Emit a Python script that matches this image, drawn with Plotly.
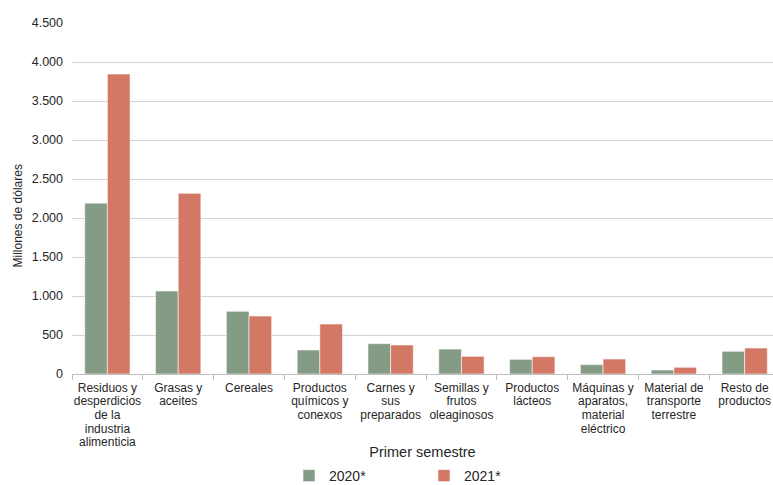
import plotly.graph_objects as go

categories = [
    "Residuos y|desperdicios|de la|industria|alimenticia",
    "Grasas y|aceites",
    "Cereales",
    "Productos|químicos y|conexos",
    "Carnes y|sus|preparados",
    "Semillas y|frutos|oleaginosos",
    "Productos|lácteos",
    "Máquinas y|aparatos,|material|eléctrico",
    "Material de|transporte|terrestre",
    "Resto de|productos",
]
values_2020 = [2190, 1064, 803, 308, 389, 320, 188, 120, 51, 291]
values_2021 = [3846, 2316, 743, 641, 372, 226, 222, 192, 86, 333]
series_names = ["2020*", "2021*"]
y_tickvals = [0, 500, 1000, 1500, 2000, 2500, 3000, 3500, 4000, 4500]

GREEN = "#849B85"
RED = "#D37864"
FONT = "Liberation Sans, Arial, sans-serif"
TXT = "#262626"

# tick labels: 12px glyphs with tighter line spacing (base font 10.5 -> 13.65px lines)
ticktext = ["<br>".join(f"<span style='font-size:12px'>{ln}</span>" for ln in c.split("|"))
            for c in categories]

W, H = 773, 485
L, T, PW, PH = 72, 23, 701, 351

fig = go.Figure()
fig.add_trace(go.Bar(x=categories, y=values_2020, name=series_names[0],
                     marker=dict(color=GREEN, line=dict(color="rgba(255,255,255,0.7)", width=0.8))))
fig.add_trace(go.Bar(x=categories, y=values_2021, name=series_names[1],
                     marker=dict(color=RED, line=dict(color="rgba(255,255,255,0.7)", width=0.8))))

fig.update_layout(
    width=W, height=H,
    margin=dict(l=L, r=W - L - PW, t=T, b=H - T - PH, autoexpand=False),
    plot_bgcolor="white", paper_bgcolor="white",
    barmode="group", bargap=0.36, bargroupgap=0,
    separators=",.",
    font=dict(family=FONT, color=TXT, size=12),
    showlegend=True,
    legend=dict(orientation="h", xref="container", yref="container",
                x=289 / W, xanchor="left", y=(H - 476) / H, yanchor="middle",
                font=dict(size=14, color=TXT), entrywidth=90, entrywidthmode="pixels",
                itemwidth=30, traceorder="normal", borderwidth=0),
    xaxis=dict(
        type="category", range=[-0.5, 9.4], automargin=False,
        tickmode="array", tickvals=categories, ticktext=ticktext,
        showline=True, linecolor="#BFBFBF", linewidth=1,
        ticks="outside", tickson="boundaries", ticklen=5, tickcolor="#BFBFBF",
        tickfont=dict(size=10.5, color=TXT), tickangle=0, ticklabelstandoff=4,
        title=dict(text="Primer semestre", font=dict(size=14.5, color=TXT), standoff=8),
        showgrid=False, fixedrange=True,
    ),
    yaxis=dict(
        range=[0, 4500], tickvals=y_tickvals, tickformat=",", automargin=False,
        showgrid=True, gridcolor="#D4D4D4", gridwidth=1,
        zeroline=False, showline=False,
        ticks="", tickfont=dict(size=12.5, color=TXT), ticklabelstandoff=8,
    ),
    annotations=[dict(text="Millones de dólares", xref="paper", yref="paper",
                      x=(17 - L) / PW, y=(T + PH - 216.5) / PH,
                      xanchor="center", yanchor="middle",
                      showarrow=False, textangle=-90, font=dict(size=12, color=TXT))],
)

fig.write_html("out.html", config={"displayModeBar": False},
               post_script="document.body.style.margin='0';document.body.style.padding='0';")
